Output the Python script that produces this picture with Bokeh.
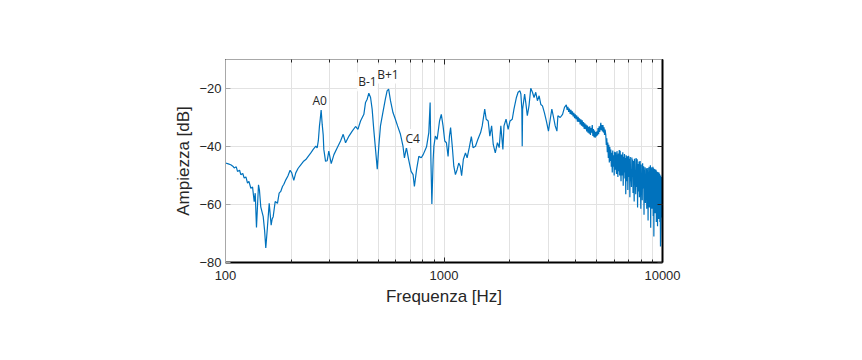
from bokeh.plotting import figure
from bokeh.models import (LogAxis, LinearAxis, LogTicker, FixedTicker, Label,
                          CustomJSTickFormatter, BasicTickFormatter)
from bokeh.embed import file_html
from bokeh.resources import INLINE

# ---------------- data ----------------
freq_hz = [
    100, 103, 105.7, 108, 109.6, 112, 113.5, 116, 117.5, 120, 121.8, 124, 126.1, 128,
    130.6, 133, 135.3, 136.8, 138.6, 141.6, 143, 145.0, 148.8, 151, 152.9, 155.6, 158.5,
    161.8, 163.5, 165.3, 168.8, 172.9, 176.0, 179, 182.3, 185, 188.8, 193, 197.5, 201,
    205.4, 209.7, 215, 221.1, 227, 233.1, 240, 245.8, 252, 259, 262.7, 266, 269.2, 271,
    274, 277, 280, 281.8, 287, 292, 297, 304.7, 313.5, 324.6, 336.2, 345.7, 354.4, 367.3,
    380.1, 393.8, 403.6, 415, 429.8, 437.4, 445, 452.9, 461.2, 469, 477, 486, 495, 503,
    512, 525, 539, 549, 558, 569, 584, 599, 613, 632, 649, 659, 673, 689, 707, 722, 732,
    749, 767, 787, 803, 822, 832, 852, 864, 871, 880, 892, 899, 913, 930, 954, 972, 990,
    1008, 1026, 1044, 1059, 1072, 1091, 1109, 1128, 1148, 1168, 1187, 1204, 1226, 1254,
    1276, 1305, 1334, 1358, 1393, 1428, 1471, 1496, 1536, 1560, 1593, 1621, 1652, 1680,
    1717, 1756, 1789, 1820, 1860, 1882, 1923, 1966, 2005, 2053, 2090, 2145, 2183, 2226,
    2248, 2271, 2280, 2290, 2339, 2372, 2406, 2450, 2495, 2540, 2583, 2630, 2676, 2725,
    2774, 2823, 2880, 2940, 3007, 3063, 3116, 3173, 3228, 3287, 3321, 3403, 3488, 3560,
    3630, 3660, 3690, 3720, 3750, 3780, 3810, 3840, 3870, 3900,
    3930, 3960, 3990, 4020, 4050, 4080, 4110, 4140, 4170, 4200,
    4230, 4260, 4290, 4320, 4350, 4380, 4410, 4440, 4470, 4500,
    4530, 4560, 4590, 4620, 4650, 4680, 4710, 4740, 4770, 4800,
    4830, 4860, 4890, 4920, 4950, 4980, 5010, 5040, 5070, 5100,
    5130, 5160, 5190, 5220, 5250, 5280, 5310, 5340, 5370, 5400,
    5430, 5460,
    5500, 5530, 5560, 5590, 5620, 5650, 5680, 5710, 5740, 5770,
    5800, 5830, 5860, 5890, 5920, 5950, 5980, 6010, 6040, 6070,
    6100, 6130, 6160, 6190, 6220, 6250, 6280, 6310, 6340, 6370,
    6400, 6430, 6460, 6490, 6520, 6550, 6580, 6610, 6640, 6670,
    6700, 6730, 6760, 6790, 6820, 6850, 6880, 6910, 6940, 6970,
    7000, 7030, 7060, 7090, 7120, 7150, 7180, 7210, 7240, 7270,
    7300, 7330, 7360, 7390, 7420, 7450, 7480, 7510, 7540, 7570,
    7600, 7630, 7660, 7690, 7720, 7750, 7780, 7810, 7840, 7870,
    7900, 7930, 7960, 7990, 8020, 8050, 8080, 8110, 8140, 8170,
    8200, 8230, 8260, 8290, 8320, 8350, 8380, 8410, 8440, 8470,
    8500, 8530, 8560, 8590, 8620, 8650, 8680, 8710, 8740, 8770,
    8800, 8830, 8860, 8890, 8920, 8950, 8980, 9010, 9040, 9070,
    9100, 9130, 9160, 9190, 9220, 9250, 9280, 9310, 9340, 9370,
    9400, 9430, 9460, 9490, 9520, 9550, 9580, 9610, 9640, 9670,
    9700, 9730, 9760, 9790, 9820, 9850, 9880, 9910, 9940, 9970,
    10000,
]
ampl_db = [
    -45.7, -46.0, -46.3, -46.8, -47.4, -47.0, -48.6, -48.2, -49.7, -49.3, -50.9, -50.5, -52.6, -52.0,
    -54.4, -54.0, -59.0, -56.1, -67.9, -53.2, -55.0, -60.8, -64.2, -69.0, -75.0, -67.7, -59.6,
    -67.1, -65.0, -64.2, -59.0, -59.6, -56.1, -55.5, -53.8, -53.0, -51.5, -50.2, -48.2, -49.1,
    -51.7, -49.1, -47.5, -46.3, -45.2, -44.5, -43.2, -42.2, -41.0, -39.9, -40.5, -38.0, -32.9, -31.0,
    -27.4, -32.3, -36.0, -41.0, -45.1, -44.9, -41.6, -45.9, -42.8, -40.4, -38.1, -35.8, -38.7, -36.4,
    -34.7, -33.1, -34.1, -31.2, -28.9, -24.8, -23.7, -21.6, -23.1, -27.1, -34.1, -41.0, -47.8, -39.9,
    -32.9, -28.3, -23.7, -20.8, -20.2, -24.2, -28.3, -30.6, -32.9, -35.8, -39.9, -43.9, -40.4, -44.5,
    -48.6, -49.7, -53.8, -48.0, -43.4, -43.9, -42.8, -41.0, -40.1, -35.2, -24.8, -44.5, -59.8, -44.5,
    -39.9, -36.4, -37.6, -31.2, -28.9, -32.9, -38.1, -38.7, -43.4, -36.4, -33.5, -39.9, -46.8, -49.7,
    -48.0, -45.7, -46.8, -50.1, -44.5, -42.2, -43.9, -40.4, -36.6, -40.4, -39.9, -37.6, -35.2, -32.9,
    -27.1, -30.6, -31.2, -36.4, -32.9, -39.3, -42.2, -38.7, -40.4, -32.9, -41.0, -32.9, -30.6, -34.1,
    -31.2, -30.6, -27.1, -23.1, -21.3, -20.8, -21.9, -27.1, -39.9, -27.1, -21.9, -25.4, -29.4, -25.9,
    -19.9, -21.3, -23.1, -21.3, -24.2, -22.5, -25.5, -26.0, -28.3, -31.2, -34.7, -30.6, -27.1, -30.0,
    -32.9, -34.7, -29.4, -30.0, -28.9, -26.5,
    -25.6, -27.4, -26.3, -28.1, -26.9, -28.8, -27.4, -29.0, -27.9, -29.6,
    -28.4, -30.2, -28.9, -30.6, -29.3, -31.4, -29.8, -31.5, -30.3, -32.4,
    -30.6, -32.8, -31.0, -33.2, -31.6, -33.9, -32.0, -34.0, -32.4, -34.8,
    -32.8, -35.2, -33.2, -35.6, -33.0, -36.0, -33.6, -35.2, -32.6, -36.4,
    -34.0, -36.8, -34.5, -37.0, -35.0, -36.5, -34.8, -36.2, -33.6, -35.8,
    -33.0, -35.0, -33.6, -31.8, -34.4, -32.6, -34.8, -32.6, -35.2, -33.4,
    -36.0, -34.2,
    -36.0, -39.5, -37.2, -42.0, -38.6, -44.0, -39.4, -45.5, -40.2, -45.0,
    -41.0, -47.0, -42.2, -49.0, -41.4, -47.0, -43.0, -50.0, -41.8, -48.0,
    -42.0, -47.0, -49.5, -41.6, -47.5, -50.5, -42.4, -48.5, -41.2, -50.0,
    -41.5, -47.5, -52.0, -42.8, -47.0, -50.0, -42.0, -53.5, -43.5, -49.0,
    -42.6, -51.0, -44.0, -56.5, -43.0, -50.0, -52.0, -43.4, -55.0, -44.5,
    -43.2, -50.5, -44.2, -57.5, -43.6, -52.0, -48.5, -54.0, -43.8, -50.5,
    -44.5, -56.0, -45.0, -51.5, -59.0, -44.2, -53.0, -49.0, -56.5, -44.0,
    -45.5, -54.0, -44.4, -61.0, -46.0, -53.0, -55.5, -45.2, -57.5, -46.5,
    -45.0, -54.0, -61.5, -46.2, -55.5, -50.0, -58.5, -45.8, -54.5, -47.5,
    -46.8, -63.5, -48.0, -56.5, -47.2, -59.5, -52.0, -56.0, -47.5, -61.5,
    -48.0, -58.0, -47.4, -65.5, -49.0, -57.0, -47.0, -61.0, -52.0, -58.5,
    -46.5, -68.0, -48.0, -56.5, -47.2, -61.5, -53.0, -59.0, -47.0, -64.0,
    -47.5, -71.0, -48.5, -59.5, -47.8, -63.0, -53.5, -61.0, -48.0, -66.0,
    -48.5, -60.0, -50.5, -67.5, -48.8, -62.0, -54.0, -65.0, -49.0, -61.0,
    -49.5, -66.0, -51.0, -74.5, -50.0, -63.0, -55.5, -64.5, -50.5, -68.0,
    -73.0,
]

x_ticks = [100, 1000, 10000]
x_tick_labels = ["100", "1000", "10000"]
y_ticks = [-80, -60, -40, -20]
y_tick_labels = ["\u221280", "\u221260", "\u221240", "\u221220"]

ann_text = ["A0", "B-1", "B+1", "C4"]
ann_freq = [247.5, 400.6, 489.6, 659.0]
ann_db = [-24.0, -17.7, -15.0, -37.2]

# ---------------- figure ----------------
TXT = "#262626"
GRID = "#e2e2e2"
BLUE = "#0072BD"

p = figure(x_axis_type="log", x_range=(100, 10000), y_range=(-80, -10),
           frame_width=437, frame_height=203,
           min_border_left=225, min_border_right=170,
           min_border_top=59, min_border_bottom=80,
           output_backend="svg", toolbar_location=None)
p.outline_line_color = None
p.background_fill_color = "white"
p.border_fill_color = "white"

p.line(freq_hz, ampl_db, line_color=BLUE, line_width=1.2)

# grids
p.xgrid.grid_line_color = GRID
p.xgrid.minor_grid_line_color = GRID
p.ygrid.grid_line_color = GRID
p.ygrid.ticker = FixedTicker(ticks=y_ticks)

# bottom axis
xa = p.xaxis[0]
xa.ticker = LogTicker(num_minor_ticks=10)
xa.formatter = BasicTickFormatter(use_scientific=False)
xa.major_label_overrides = {t: l for t, l in zip(x_ticks, x_tick_labels)}
xa.axis_line_color = "black"
xa.axis_line_width = 2
xa.major_tick_in = 5
xa.major_tick_out = 0
xa.minor_tick_in = 3
xa.minor_tick_out = 0
xa.major_tick_line_color = TXT
xa.minor_tick_line_color = TXT
xa.major_label_text_font = "Liberation Sans"
xa.major_label_text_font_size = "13px"
xa.major_label_text_color = TXT
xa.major_label_standoff = 8
xa.axis_label = "Frequenza [Hz]"
xa.axis_label_text_font = "Liberation Sans"
xa.axis_label_text_font_size = "17px"
xa.axis_label_text_font_style = "normal"
xa.axis_label_text_color = TXT
xa.axis_label_standoff = 4

# left axis
ya = p.yaxis[0]
ya.ticker = FixedTicker(ticks=y_ticks)
ya.major_label_overrides = {t: l for t, l in zip(y_ticks, y_tick_labels)}
ya.axis_line_color = "#a8a8a8"
ya.axis_line_width = 1
ya.major_tick_in = 5
ya.major_tick_out = 0
ya.minor_tick_line_color = None
ya.major_tick_line_color = "#a8a8a8"
ya.major_label_text_font = "Liberation Sans"
ya.major_label_text_font_size = "13px"
ya.major_label_text_color = TXT
ya.major_label_standoff = 4
ya.axis_label = "Ampiezza [dB]"
ya.axis_label_text_font = "Liberation Sans"
ya.axis_label_text_font_size = "17px"
ya.axis_label_text_font_style = "normal"
ya.axis_label_text_color = TXT
ya.axis_label_standoff = 3

blank = CustomJSTickFormatter(code="return ''")

# top axis (box)
ta = LogAxis(ticker=LogTicker(num_minor_ticks=10), formatter=blank)
ta.axis_line_color = "#a8a8a8"
ta.major_tick_in = 5
ta.major_tick_out = 0
ta.minor_tick_in = 3
ta.minor_tick_out = 0
ta.major_tick_line_color = TXT
ta.minor_tick_line_color = TXT
ta.major_label_standoff = 0
p.add_layout(ta, "above")

# right axis (box)
ra = LinearAxis(ticker=FixedTicker(ticks=y_ticks), formatter=blank)
ra.axis_line_color = "black"
ra.axis_line_width = 2
ra.major_tick_in = 5
ra.major_tick_out = 0
ra.minor_tick_line_color = None
ra.major_tick_line_color = TXT
ra.major_label_standoff = 0
p.add_layout(ra, "right")

# annotations
for t, fx, dy in zip(ann_text, ann_freq, ann_db):
    p.add_layout(Label(x=fx, y=dy, text=t, text_align="left", text_baseline="middle",
                       text_font="Open Sans", text_font_size="12px", text_color=TXT,
                       background_fill_color="white", padding=1))

open("out.html", "w").write(file_html(p, INLINE))
